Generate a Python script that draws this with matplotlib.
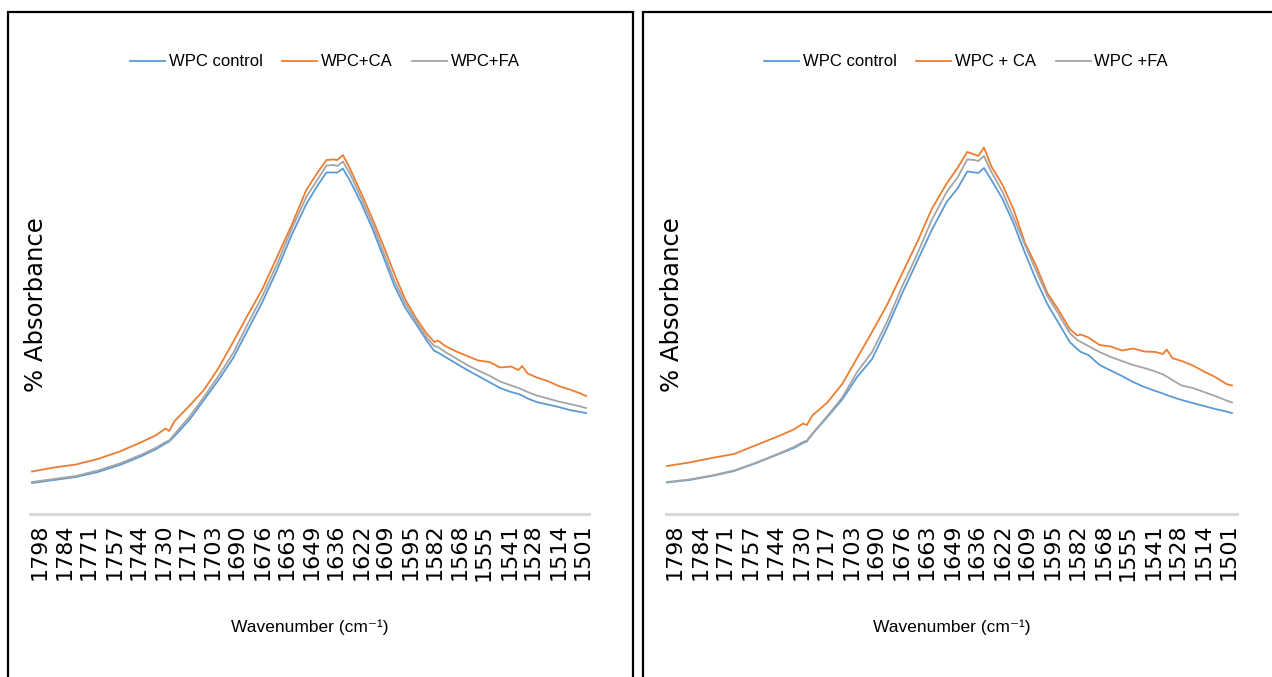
import numpy as np
import matplotlib.pyplot as plt
from matplotlib.patches import Rectangle

# wavenumber grid (cm-1)
wavenumber = [1802, 1790, 1778, 1766, 1754, 1742, 1734, 1729, 1727, 1724,
              1716, 1708, 1700, 1692, 1684, 1676, 1668, 1660, 1652, 1646,
              1641, 1637, 1635, 1632, 1628, 1622, 1616, 1610, 1604, 1598,
              1592, 1586, 1582, 1580, 1576, 1570, 1564, 1558, 1552, 1546,
              1540, 1536, 1534, 1531, 1526, 1520, 1514, 1508, 1502, 1499]

tick_labels = ['1798', '1784', '1771', '1757', '1744', '1730', '1717', '1703',
               '1690', '1676', '1663', '1649', '1636', '1622', '1609', '1595',
               '1582', '1568', '1555', '1541', '1528', '1514', '1501']

# left chart
left_control = [0.031, 0.034, 0.037, 0.042, 0.049, 0.058, 0.065, 0.0705, 0.0725, 0.078,
                0.094, 0.114, 0.134, 0.156, 0.184, 0.212, 0.244, 0.279, 0.310, 0.328,
                0.3415, 0.3415, 0.3415, 0.3455, 0.333, 0.311, 0.286, 0.258, 0.229, 0.2065,
                0.190, 0.173, 0.163, 0.1615, 0.157, 0.1505, 0.144, 0.138, 0.132, 0.126,
                0.122, 0.120, 0.1185, 0.1155, 0.112, 0.1095, 0.107, 0.104, 0.102, 0.101]
left_ca = [0.0425, 0.0465, 0.0495, 0.055, 0.0625, 0.072, 0.079, 0.0855, 0.083, 0.093,
           0.108, 0.124, 0.146, 0.172, 0.199, 0.225, 0.257, 0.289, 0.324, 0.341,
           0.354, 0.3545, 0.354, 0.359, 0.345, 0.321, 0.296, 0.269, 0.241, 0.215,
           0.196, 0.180, 0.172, 0.1735, 0.168, 0.1625, 0.158, 0.1535, 0.152, 0.1465,
           0.1475, 0.144, 0.148, 0.1405, 0.1365, 0.133, 0.128, 0.1245, 0.1205, 0.118]
left_fa = [0.032, 0.035, 0.038, 0.0435, 0.0505, 0.0595, 0.0665, 0.072, 0.0735, 0.080,
           0.097, 0.117, 0.138, 0.161, 0.190, 0.218, 0.250, 0.285, 0.317, 0.334,
           0.3485, 0.349, 0.348, 0.3525, 0.340, 0.316, 0.291, 0.263, 0.234, 0.211,
           0.193, 0.176, 0.168, 0.167, 0.162, 0.1555, 0.149, 0.1435, 0.1385, 0.1325,
           0.1285, 0.126, 0.1245, 0.122, 0.1185, 0.1155, 0.1125, 0.110, 0.1075, 0.106]

# right chart
right_control = [0.0315, 0.034, 0.038, 0.043, 0.051, 0.060, 0.066, 0.071, 0.0725, 0.080,
                 0.097, 0.1145, 0.137, 0.155, 0.186, 0.220, 0.252, 0.284, 0.312, 0.326,
                 0.3425, 0.3415, 0.341, 0.346, 0.334, 0.315, 0.290, 0.261, 0.234, 0.210,
                 0.191, 0.172, 0.165, 0.162, 0.159, 0.149, 0.1435, 0.138, 0.132, 0.127,
                 0.123, 0.1205, 0.119, 0.117, 0.114, 0.111, 0.108, 0.105, 0.1025, 0.101]
right_ca = [0.048, 0.0515, 0.056, 0.060, 0.069, 0.078, 0.0845, 0.0905, 0.089, 0.0985,
            0.1115, 0.130, 0.156, 0.182, 0.209, 0.240, 0.271, 0.305, 0.3305, 0.3465,
            0.362, 0.3595, 0.358, 0.3665, 0.3475, 0.329, 0.304, 0.271, 0.248, 0.221,
            0.204, 0.185, 0.1785, 0.1795, 0.1765, 0.169, 0.1675, 0.1635, 0.1655, 0.1625,
            0.162, 0.160, 0.1645, 0.156, 0.153, 0.1485, 0.1425, 0.137, 0.130, 0.1285]
right_fa = [0.032, 0.0345, 0.0385, 0.0435, 0.0515, 0.0605, 0.067, 0.072, 0.0735, 0.0805,
            0.098, 0.1165, 0.142, 0.162, 0.192, 0.227, 0.259, 0.294, 0.322, 0.337,
            0.3545, 0.354, 0.353, 0.358, 0.342, 0.322, 0.296, 0.269, 0.243, 0.218,
            0.200, 0.181, 0.174, 0.172, 0.168, 0.162, 0.157, 0.153, 0.149, 0.146,
            0.1425, 0.1395, 0.1375, 0.134, 0.1285, 0.126, 0.122, 0.118, 0.1135, 0.1115]

left_names = ['WPC control', 'WPC+CA', 'WPC+FA']
right_names = ['WPC control', 'WPC + CA', 'WPC +FA']
colors = ['#5B9BD5', '#ED7D31', '#A5A5A5']

narrow = ['Liberation Sans', 'DejaVu Sans']

W, H = 1272, 677
fig = plt.figure(figsize=(W / 100, H / 100), dpi=100)

# panel frames
fig.patches.append(Rectangle((8 / W, -0.01), 625 / W, 1.01 - 12 / H, transform=fig.transFigure,
                             fill=False, edgecolor='black', linewidth=1.6))
fig.patches.append(Rectangle((643 / W, -0.01), 0.5, 1.01 - 12 / H, transform=fig.transFigure,
                             fill=False, edgecolor='black', linewidth=1.6))


def panel(x0, x1, xlim, series, names, legend_x):
    ax = fig.add_axes([x0 / W, 1 - 514 / H, (x1 - x0) / W, 414 / H])
    for vals, name, c in zip(series, names, colors):
        ax.plot(wavenumber, vals, color=c, lw=1.3, label=name)
    ax.set_xlim(xlim)
    ax.set_ylim(0, 0.414)
    ax.set_xticks([int(t) for t in tick_labels])
    ax.set_xticklabels(tick_labels, rotation=90, fontsize=16, family='DejaVu Sans')
    ax.tick_params(axis='x', length=0, pad=7)
    ax.set_yticks([])
    for s in ['top', 'left', 'right']:
        ax.spines[s].set_visible(False)
    ax.spines['bottom'].set_color('#d9d9d9')
    ax.spines['bottom'].set_linewidth(2.2)
    ax.text(0.011, 0.505, '% Absorbance', transform=ax.transAxes, rotation=90,
            ha='center', va='center', fontsize=17.5, family='DejaVu Sans')
    ax.text(0.5, -0.273, 'Wavenumber (cm⁻¹)', transform=ax.transAxes,
            ha='center', va='center', fontsize=12.5, family=narrow)
    fig.legend(*ax.get_legend_handles_labels(), loc='center',
               bbox_to_anchor=(legend_x / W, 1 - 62 / H), ncol=3, frameon=False,
               handlelength=2.1, handletextpad=0.2, columnspacing=1.2,
               prop={'family': narrow, 'size': 12})
    return ax


panel(30, 589, (1803.1, 1497.4), [left_control, left_ca, left_fa], left_names, 325)
panel(666, 1237, (1802.5, 1496.3), [right_control, right_ca, right_fa], right_names, 966)

fig.savefig('out.png', dpi=100)
